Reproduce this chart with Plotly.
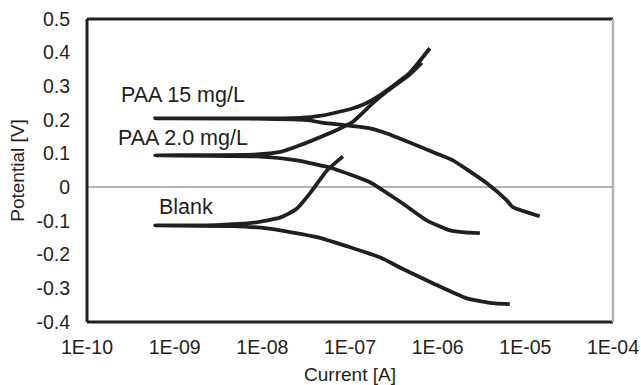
import plotly.graph_objects as go
import math

# ---- data (current [A], potential [V]) ----
blank_current = [6.65e-6, 4.5e-6, 2.15e-6, 8.8e-7, 3.7e-7, 2.19e-7, 4.2e-8, 1.13e-8, 4.6e-9, 6e-10,
                 3e-9, 8e-9, 1.59e-8, 2.0e-8, 2.48e-8, 3.49e-8, 5.46e-8, 8.3e-8]
blank_potential = [-0.347, -0.345, -0.330, -0.285, -0.238, -0.208, -0.148, -0.122, -0.115, -0.113,
                   -0.112, -0.105, -0.090, -0.078, -0.063, -0.018, 0.050, 0.092]

paa2_current = [3.03e-6, 2.04e-6, 1.38e-6, 7.5e-7, 4.0e-7, 2.19e-7, 1.69e-7, 6.4e-8, 2.48e-8, 8.7e-9, 6e-10,
                8e-9, 1.6e-8, 2.68e-8, 4.54e-8, 7.7e-8, 1.08e-7, 1.82e-7, 2.64e-7, 4.8e-7, 6.6e-7]
paa2_potential = [-0.136, -0.134, -0.128, -0.098, -0.048, -0.003, 0.015, 0.056, 0.080, 0.092, 0.095,
                  0.097, 0.105, 0.125, 0.149, 0.175, 0.195, 0.250, 0.285, 0.335, 0.370]

paa15_current = [1.46e-5, 7.2e-6, 6.15e-6, 3.64e-6, 1.49e-6, 9.8e-7, 2.64e-7, 1.69e-7, 4.54e-8, 3.49e-8,
                 7.2e-9, 6e-10, 1.59e-8, 2.68e-8, 4.54e-8, 9.97e-8, 1.4e-7, 2.19e-7, 2.64e-7, 4.8e-7, 8.15e-7]
paa15_potential = [-0.086, -0.059, -0.039, 0.012, 0.080, 0.100, 0.160, 0.175, 0.193, 0.199,
                   0.204, 0.205, 0.205, 0.206, 0.212, 0.232, 0.245, 0.273, 0.288, 0.340, 0.413]

series_names = ["Blank", "PAA 2.0 mg/L", "PAA 15 mg/L"]
x_tick_values = [1e-10, 1e-9, 1e-8, 1e-7, 1e-6, 1e-5, 1e-4]
x_tick_labels = ["1E-10", "1E-09", "1E-08", "1E-07", "1E-06", "1E-05", "1E-04"]
y_tick_values = [0.5, 0.4, 0.3, 0.2, 0.1, 0.0, -0.1, -0.2, -0.3, -0.4]
y_tick_labels = ["0.5", "0.4", "0.3", "0.2", "0.1", "0", "-0.1", "-0.2", "-0.3", "-0.4"]

FONT = "Liberation Sans, Arial, sans-serif"
INK = "#231f20"

fig = go.Figure()
for name, xs, ys in [(series_names[0], blank_current, blank_potential),
                     (series_names[1], paa2_current, paa2_potential),
                     (series_names[2], paa15_current, paa15_potential)]:
    fig.add_trace(go.Scatter(x=xs, y=ys, mode="lines", name=name,
                             line=dict(color=INK, width=3.8, shape="spline", smoothing=0.5),
                             showlegend=False))

# curve labels (left edge current, centre potential)
label_pos = {"PAA 15 mg/L": (2.3e-10, 0.273),
             "PAA 2.0 mg/L": (2.15e-10, 0.148),
             "Blank": (6.3e-10, -0.057)}
for name in series_names:
    lx, ly = label_pos[name]
    fig.add_annotation(x=math.log10(lx), y=ly, xref="x", yref="y", text=name,
                       showarrow=False, xanchor="left", yanchor="middle",
                       font=dict(family=FONT, size=21.5, color=INK))

# plot-area frame: black left/bottom/top, grey right
frame = [
    dict(x0=0, x1=0, y0=0, y1=1, color=INK, w=3),
    dict(x0=0, x1=1, y0=0, y1=0, color=INK, w=3),
    dict(x0=0, x1=1, y0=1, y1=1, color=INK, w=3),
    dict(x0=1, x1=1, y0=0, y1=1, color="#b3b3b6", w=2.5),
]
for f in frame:
    fig.add_shape(type="line", xref="paper", yref="paper", x0=f["x0"], x1=f["x1"],
                  y0=f["y0"], y1=f["y1"], line=dict(color=f["color"], width=f["w"]))

fig.update_xaxes(type="log", range=[-10, -4], tickvals=x_tick_values, ticktext=x_tick_labels,
                 showgrid=False, zeroline=False, showline=False, ticks="", automargin=False,
                 ticklabelstandoff=11,
                 tickfont=dict(family=FONT, size=19.5, color=INK),
                 title=dict(text="Current [A]", font=dict(family=FONT, size=19, color=INK), standoff=14))
fig.update_yaxes(range=[-0.4, 0.5], tickvals=y_tick_values, ticktext=y_tick_labels,
                 showgrid=False, zeroline=True, zerolinecolor="#b3b3b6", zerolinewidth=2,
                 showline=False, ticks="", ticklabelstandoff=16, automargin=False,
                 tickfont=dict(family=FONT, size=19.5, color=INK),
                 title=dict(text="Potential [V]", font=dict(family=FONT, size=19, color=INK), standoff=6))

fig.update_layout(width=641, height=385, margin=dict(l=87, r=28, t=19, b=63),
                  paper_bgcolor="white", plot_bgcolor="white")
fig.write_html("out.html")
